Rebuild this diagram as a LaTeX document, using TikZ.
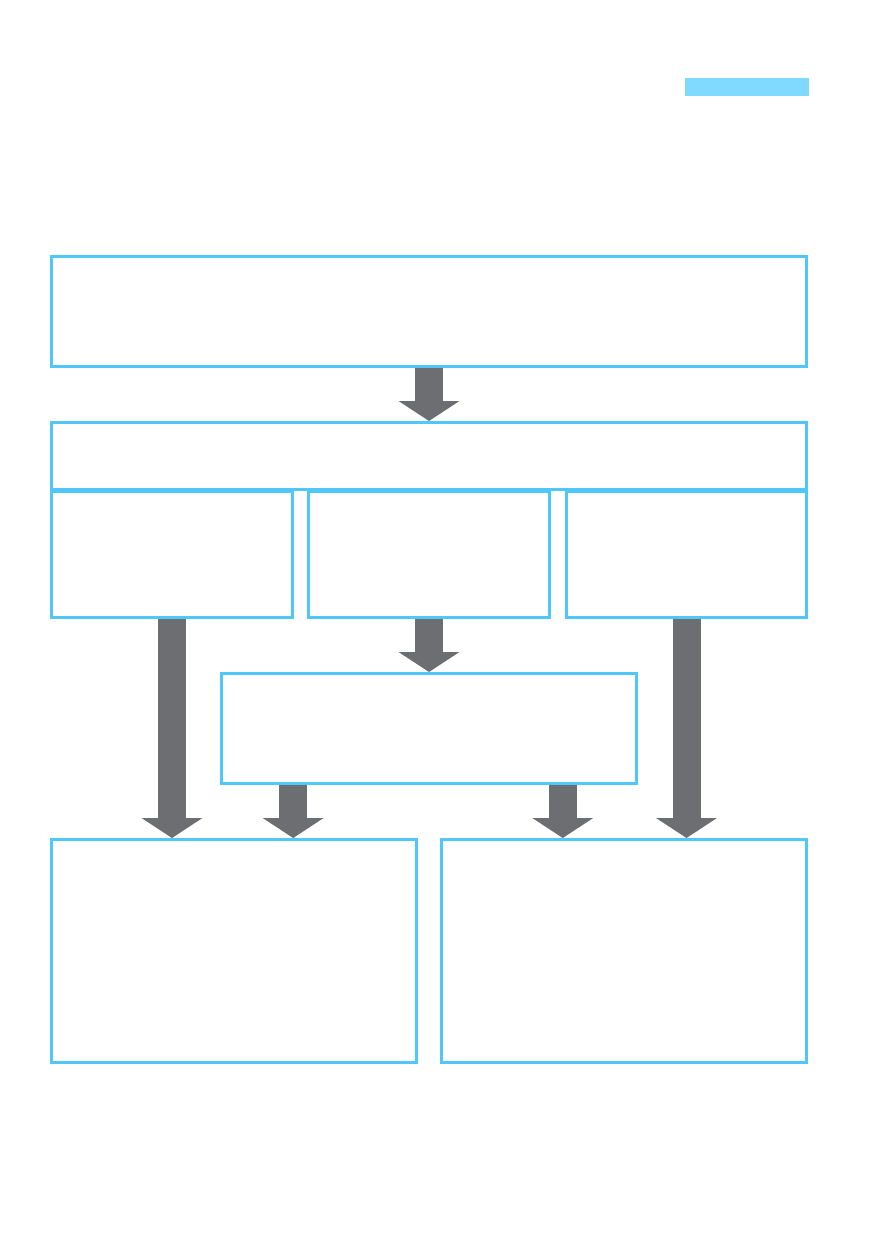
\documentclass[tikz,border=0pt]{standalone}
\usepackage{tikz}
\usetikzlibrary{arrows.meta, positioning, calc}
\definecolor{boxblue}{RGB}{79,199,248}
\definecolor{barblue}{RGB}{128,217,255}
\definecolor{arrowgray}{RGB}{109,110,113}

\begin{document}
\begin{tikzpicture}[
    x=1pt, y=-1pt,
    box/.style={draw=boxblue, line width=3pt, fill=white, inner sep=0pt},
    bigarrow/.style={-{Triangle[width=60pt,length=20pt]}, line width=28pt, arrowgray},
]
\useasboundingbox (0,0) rectangle (894,1260);

% tab marker
\node[fill=barblue, minimum width=124pt, minimum height=18pt, inner sep=0pt] (tab) at (747,87) {};

% top rows
\node[box, minimum width=755pt, minimum height=110pt] (top) at (429,311.5) {};
\node[box, minimum width=755pt, minimum height=67pt] (band) at (429,456) {};
\node[box, minimum width=241pt, minimum height=126pt] (leftcol) at (172,554.5) {};
\node[box, minimum width=241pt, minimum height=126pt] (midcol) at (429,554.5) {};
\node[box, minimum width=240pt, minimum height=126pt] (rightcol) at (686.5,554.5) {};

% middle and bottom boxes
\node[box, minimum width=415pt, minimum height=110pt] (midbox) at (429,728.5) {};
\node[box, minimum width=365pt, minimum height=223pt] (botleft) at (234,951) {};
\node[box, minimum width=365pt, minimum height=223pt] (botright) at (624,951) {};

\coordinate (ma) at ($(midbox.south west)!0.175!(midbox.south east)$);
\coordinate (mb) at ($(midbox.south west)!0.82!(midbox.south east)$);

% arrows
\draw[bigarrow] (top.south) -- (band.north);
\draw[bigarrow] (midcol.south) -- (midbox.north);
\draw[bigarrow] (leftcol.south) -- (leftcol.south |- botleft.north);
\draw[bigarrow] (rightcol.south) -- (rightcol.south |- botright.north);
\draw[bigarrow] (ma) -- (ma |- botleft.north);
\draw[bigarrow] (mb) -- (mb |- botright.north);
\end{tikzpicture}
\end{document}
